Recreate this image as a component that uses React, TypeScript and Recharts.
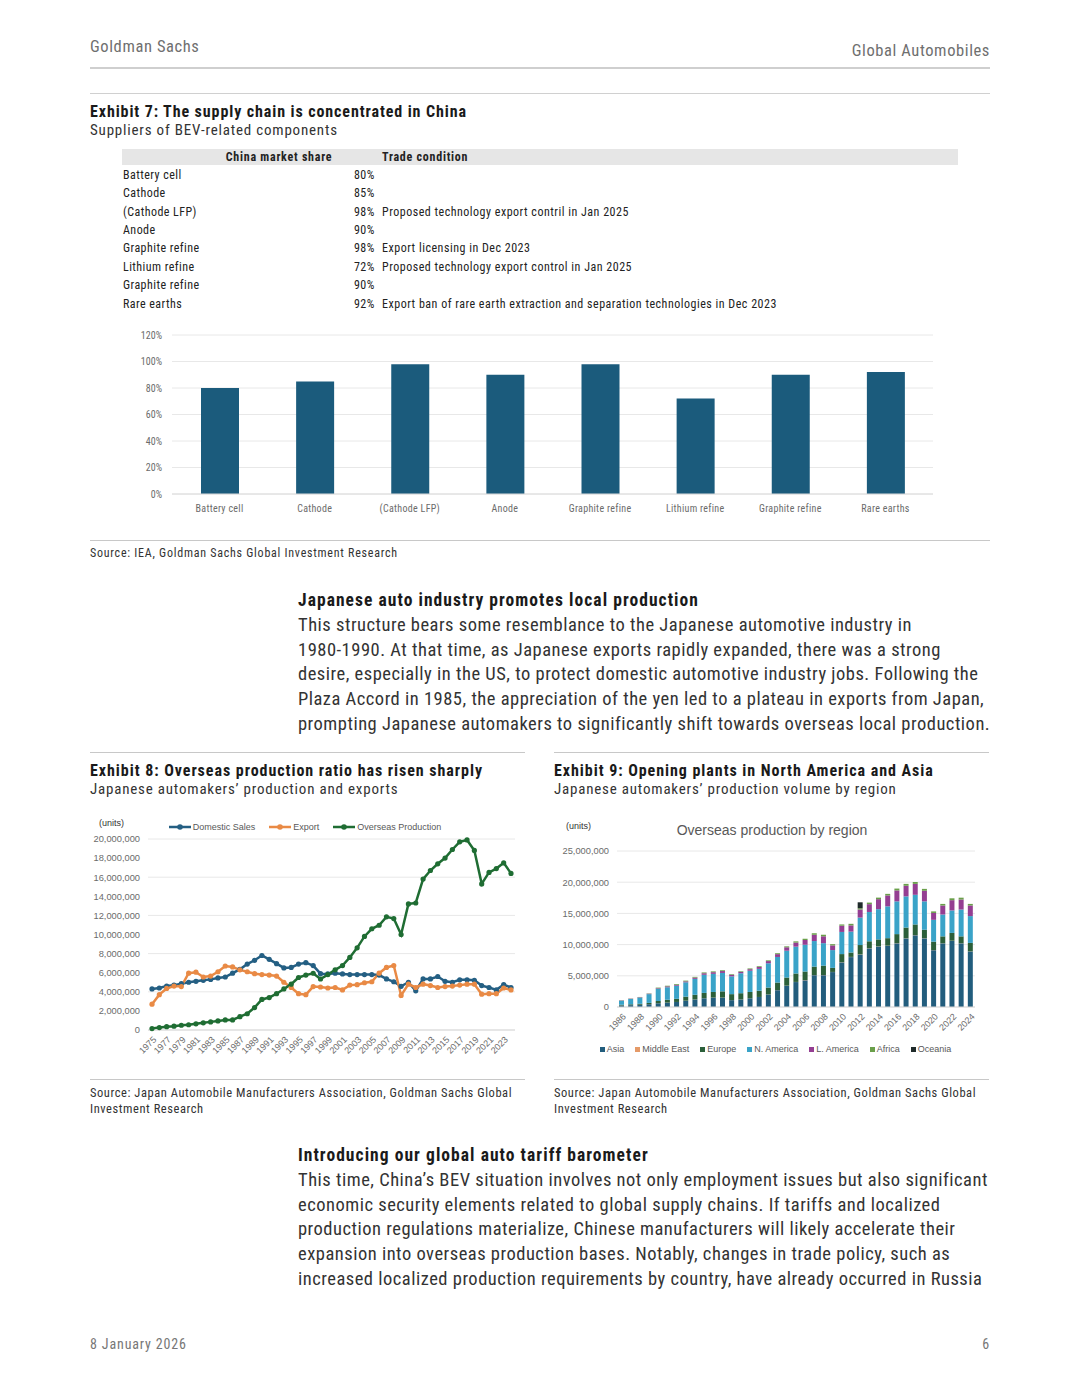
import React from "react";
import {
  Bar,
  BarChart,
  CartesianGrid,
  Legend,
  Line,
  LineChart,
  XAxis,
  YAxis,
} from "recharts";

// ---- Exhibit 7 data ----
const COMPONENTS = [
  "Battery cell",
  "Cathode",
  "(Cathode LFP)",
  "Anode",
  "Graphite refine",
  "Lithium refine",
  "Graphite refine",
  "Rare earths",
];
const CHINA_SHARE = [80, 85, 98, 90, 98, 72, 90, 92];
const TRADE_CONDITION = [
  "",
  "",
  "Proposed technology export contril in Jan 2025",
  "",
  "Export licensing in Dec 2023",
  "Proposed technology export control in Jan 2025",
  "",
  "Export ban of rare earth extraction and separation technologies in Dec 2023",
];
const SHARE_TICKS = [0, 20, 40, 60, 80, 100, 120];

// ---- Exhibit 8 data (millions of units) ----
const YEARS_8 = [
  "1975", "1976", "1977", "1978", "1979", "1980", "1981", "1982", "1983", "1984",
  "1985", "1986", "1987", "1988", "1989", "1990", "1991", "1992", "1993", "1994",
  "1995", "1996", "1997", "1998", "1999", "2000", "2001", "2002", "2003", "2004",
  "2005", "2006", "2007", "2008", "2009", "2010", "2011", "2012", "2013", "2014",
  "2015", "2016", "2017", "2018", "2019", "2020", "2021", "2022", "2023", "2024",
];
const DOMESTIC_SALES = [
  4.3, 4.4, 4.6, 4.7, 4.85, 5.0, 5.1, 5.2, 5.3, 5.45,
  5.55, 5.95, 6.35, 6.9, 7.3, 7.8, 7.4, 6.95, 6.5, 6.55,
  6.9, 7.05, 6.75, 5.9, 5.87, 5.95, 5.87, 5.8, 5.8, 5.8,
  5.8, 5.75, 5.35, 5.05, 4.57, 5.0, 4.1, 5.35, 5.35, 5.6,
  5.1, 5.0, 5.25, 5.25, 5.2, 4.65, 4.45, 4.2, 4.75, 4.45,
];
const EXPORT = [
  2.7, 3.7, 4.35, 4.6, 4.55, 5.95, 6.05, 5.55, 5.65, 6.1,
  6.7, 6.6, 6.3, 6.1, 5.9, 5.8, 5.75, 5.65, 5.0, 4.45,
  3.8, 3.7, 4.55, 4.5, 4.4, 4.45, 4.2, 4.7, 4.75, 4.95,
  5.05, 5.95, 6.55, 6.75, 3.62, 4.8, 4.45, 4.8, 4.65, 4.45,
  4.55, 4.6, 4.7, 4.8, 4.8, 3.75, 3.8, 3.8, 4.4, 4.2,
];
const OVERSEAS_PRODUCTION = [
  0.15, 0.25, 0.35, 0.4, 0.5, 0.55, 0.65, 0.75, 0.85, 0.95,
  1.05, 1.05, 1.4, 1.7, 2.35, 3.2, 3.4, 3.8, 4.3, 4.8,
  5.5, 5.75, 5.94, 5.34, 5.8, 6.3, 6.75, 7.6, 8.6, 9.8,
  10.6, 10.97, 11.85, 11.67, 10.0, 13.2, 13.3, 15.8, 16.7, 17.4,
  18.0, 18.9, 19.7, 19.9, 18.8, 15.3, 16.5, 16.9, 17.5, 16.4,
];
const UNIT_TICKS_8 = [0, 2, 4, 6, 8, 10, 12, 14, 16, 18, 20];

// ---- Exhibit 9 data (millions of units) ----
const YEARS_9 = [
  "1986", "1987", "1988", "1989", "1990", "1991", "1992", "1993", "1994", "1995",
  "1996", "1997", "1998", "1999", "2000", "2001", "2002", "2003", "2004", "2005",
  "2006", "2007", "2008", "2009", "2010", "2011", "2012", "2013", "2014", "2015",
  "2016", "2017", "2018", "2019", "2020", "2021", "2022", "2023", "2024",
];
const ASIA = [
  0.25, 0.3, 0.35, 0.45, 0.6, 0.7, 0.8, 1.0, 1.2, 1.4,
  1.5, 1.5, 1.1, 1.2, 1.4, 1.6, 2.0, 2.7, 3.4, 4.0,
  4.3, 5.1, 5.1, 5.6, 7.15, 8.0, 8.4, 9.4, 9.7, 9.8,
  10.2, 11.0, 11.5, 11.0, 9.1, 10.2, 10.6, 10.2, 8.9,
];
const MIDDLE_EAST = [
  0.01, 0.01, 0.01, 0.01, 0.01, 0.01, 0.01, 0.01, 0.01, 0.01,
  0.01, 0.01, 0.01, 0.01, 0.01, 0.01, 0.01, 0.02, 0.02, 0.02,
  0.02, 0.02, 0.03, 0.02, 0.03, 0.03, 0.03, 0.03, 0.03, 0.03,
  0.03, 0.03, 0.03, 0.03, 0.02, 0.02, 0.02, 0.02, 0.02,
];
const EUROPE = [
  0.1, 0.12, 0.15, 0.2, 0.35, 0.45, 0.5, 0.65, 0.75, 0.85,
  0.9, 1.0, 0.95, 1.0, 1.0, 1.0, 1.1, 1.2, 1.3, 1.35,
  1.35, 1.35, 1.5, 0.65, 1.3, 0.7, 1.5, 1.1, 1.1, 1.2,
  1.45, 1.7, 1.7, 1.35, 1.35, 1.1, 1.25, 1.1, 1.35,
];
const N_AMERICA = [
  0.65, 0.85, 1.0, 1.4, 1.95, 2.0, 2.1, 2.3, 2.55, 2.9,
  2.9, 2.95, 2.85, 3.2, 3.4, 3.5, 3.9, 4.1, 4.3, 4.3,
  4.3, 4.1, 3.6, 2.85, 3.55, 3.35, 4.4, 4.7, 4.85, 5.1,
  5.25, 5.0, 4.75, 4.55, 3.5, 3.5, 3.6, 4.3, 4.3,
];
const L_AMERICA = [
  0.05, 0.05, 0.06, 0.07, 0.1, 0.15, 0.15, 0.15, 0.2, 0.25,
  0.27, 0.3, 0.25, 0.22, 0.25, 0.3, 0.35, 0.45, 0.55, 0.65,
  0.75, 1.0, 1.1, 0.75, 1.0, 1.0, 1.3, 1.25, 1.6, 1.75,
  1.75, 1.7, 1.75, 1.7, 1.1, 1.45, 1.65, 1.6, 1.7,
];
const AFRICA = [
  0.03, 0.03, 0.04, 0.05, 0.1, 0.1, 0.12, 0.12, 0.12, 0.13,
  0.13, 0.13, 0.1, 0.1, 0.12, 0.12, 0.12, 0.15, 0.15, 0.2,
  0.2, 0.25, 0.25, 0.2, 0.2, 0.25, 0.2, 0.25, 0.25, 0.25,
  0.3, 0.3, 0.3, 0.3, 0.25, 0.25, 0.3, 0.3, 0.25,
];
const OCEANIA = [
  0, 0, 0, 0, 0, 0, 0, 0, 0, 0,
  0, 0, 0, 0, 0, 0, 0, 0, 0, 0,
  0, 0, 0, 0, 0, 0, 0.95, 0, 0, 0,
  0, 0, 0, 0, 0, 0, 0, 0, 0,
];
const UNIT_TICKS_9 = [0, 5, 10, 15, 20, 25];

const REGIONS = [
  { key: "asia", name: "Asia", color: "#225d7d", values: ASIA },
  { key: "me", name: "Middle East", color: "#e59a68", values: MIDDLE_EAST },
  { key: "europe", name: "Europe", color: "#2b5f3a", values: EUROPE },
  { key: "na", name: "N. America", color: "#3aa3c8", values: N_AMERICA },
  { key: "la", name: "L. America", color: "#943e92", values: L_AMERICA },
  { key: "africa", name: "Africa", color: "#6a9f4a", values: AFRICA },
  { key: "oceania", name: "Oceania", color: "#1f2a2a", values: OCEANIA },
];
const LINE_SERIES = [
  { key: "domestic", name: "Domestic Sales", color: "#245f83" },
  { key: "export", name: "Export", color: "#e98a45" },
  { key: "overseas", name: "Overseas Production", color: "#1f6d33" },
];

const FONT_GS = "'Liberation Sans Narrow', 'Roboto Condensed', Roboto, sans-serif";
const FONT_XL = "'Liberation Sans', Arial, sans-serif";
const GRID = "#e8e8e8";
const AXIS_TEXT = "#6b6b6b";

const exhibit7Data = COMPONENTS.map((c, i) => ({ name: c, share: CHINA_SHARE[i], idx: i }));
const exhibit8Data = YEARS_8.map((y, i) => ({
  year: y,
  domestic: DOMESTIC_SALES[i],
  export: EXPORT[i],
  overseas: OVERSEAS_PRODUCTION[i],
}));
const exhibit9Data = YEARS_9.map((y, i) => {
  const row: Record<string, string | number> = { year: y };
  REGIONS.forEach((r) => (row[r.key] = r.values[i]));
  return row;
});

const units = (v: number) => (v * 1000000).toLocaleString("en-US");

function T({
  x,
  y,
  size = 12,
  weight = 400,
  color = "#222",
  anchor = "start",
  font = FONT_GS,
  ls = 0,
  children,
}: {
  x: number;
  y: number;
  size?: number;
  weight?: number;
  color?: string;
  anchor?: "start" | "end" | "middle";
  font?: string;
  ls?: number;
  children: React.ReactNode;
}) {
  const style: React.CSSProperties = {
    position: "absolute",
    top: y - size * 0.6,
    fontSize: size,
    lineHeight: `${size * 1.2}px`,
    fontWeight: weight,
    color,
    fontFamily: font,
    letterSpacing: ls,
    whiteSpace: "nowrap",
  };
  if (anchor === "end") style.right = 1080 - x;
  else if (anchor === "middle") {
    style.left = x;
    style.transform = "translateX(-50%)";
  } else style.left = x;
  return <div style={style}>{children}</div>;
}

function Rule({ x, y, w, h = 1, color = "#c8c8c8" }: { x: number; y: number; w: number; h?: number; color?: string }) {
  return <div style={{ position: "absolute", left: x, top: y, width: w, height: h, background: color }} />;
}

function RotTick({ x, y, payload }: any) {
  return (
    <g transform={`translate(${x},${y})`}>
      <text x={2} y={5} transform="rotate(-45)" textAnchor="end" fontSize={9} fill={AXIS_TEXT} fontFamily={FONT_XL}>
        {payload.value}
      </text>
    </g>
  );
}

function LineLegend() {
  return (
    <div style={{ display: "flex", justifyContent: "center", gap: 14, fontSize: 9, color: "#595959", fontFamily: FONT_XL }}>
      {LINE_SERIES.map((e) => (
        <span key={e.key} style={{ display: "flex", alignItems: "center" }}>
          <svg width={22} height={8}>
            <line x1={0} y1={4} x2={22} y2={4} stroke={e.color} strokeWidth={2.5} />
            <circle cx={11} cy={4} r={2.8} fill={e.color} />
          </svg>
          <span style={{ marginLeft: 2 }}>{e.name}</span>
        </span>
      ))}
    </div>
  );
}

function BoxLegend() {
  return (
    <div style={{ display: "flex", justifyContent: "center", gap: 11, fontSize: 9, color: "#595959", fontFamily: FONT_XL, whiteSpace: "nowrap" }}>
      {REGIONS.map((e) => (
        <span key={e.key} style={{ display: "flex", alignItems: "center" }}>
          <span style={{ width: 5, height: 5, background: e.color, marginRight: 2, display: "inline-block" }} />
          {e.name}
        </span>
      ))}
    </div>
  );
}

const PARA_1 = [
  "This structure bears some resemblance to the Japanese automotive industry in",
  "1980-1990. At that time, as Japanese exports rapidly expanded, there was a strong",
  "desire, especially in the US, to protect domestic automotive industry jobs. Following the",
  "Plaza Accord in 1985, the appreciation of the yen led to a plateau in exports from Japan,",
  "prompting Japanese automakers to significantly shift towards overseas local production.",
];
const PARA_2 = [
  "This time, China\u2019s BEV situation involves not only employment issues but also significant",
  "economic security elements related to global supply chains. If tariffs and localized",
  "production regulations materialize, Chinese manufacturers will likely accelerate their",
  "expansion into overseas production bases. Notably, changes in trade policy, such as",
  "increased localized production requirements by country, have already occurred in Russia",
];

export default function App() {
  return (
    <div style={{ position: "absolute", left: 0, top: 0, width: 1080, height: 1397, background: "#fff", overflow: "hidden" }}>
      {/* page header */}
      <T x={90} y={47} size={16.5} color="#6f6f6f" ls={0.6}>Goldman Sachs</T>
      <T x={990} y={51} size={16.5} color="#6f6f6f" anchor="end" ls={0.6}>Global Automobiles</T>
      <Rule x={90} y={67} w={900} h={2} color="#cfcfcf" />
      <Rule x={90} y={93} w={900} h={1} color="#d0d0d0" />

      {/* Exhibit 7 */}
      <T x={90} y={112} size={16} weight={700} color="#1a1a1a" ls={0.9}>Exhibit 7: The supply chain is concentrated in China</T>
      <T x={90} y={130} size={15} color="#333" ls={0.8}>Suppliers of BEV-related components</T>
      <div style={{ position: "absolute", left: 122, top: 149, width: 836, height: 16, background: "#e6e6e6" }} />
      <T x={279} y={157} size={12} weight={700} anchor="middle" ls={0.75}>China market share</T>
      <T x={382} y={157} size={12} weight={700} ls={0.75}>Trade condition</T>
      {COMPONENTS.map((c, i) => (
        <React.Fragment key={i}>
          <T x={123} y={175 + i * 18.4} size={12} ls={0.45}>{c}</T>
          <T x={354} y={175 + i * 18.4} size={12} ls={0.45}>{CHINA_SHARE[i]}%</T>
          <T x={382} y={175 + i * 18.4} size={12} ls={0.5}>{TRADE_CONDITION[i]}</T>
        </React.Fragment>
      ))}
      <div style={{ position: "absolute", left: 112, top: 325 }}>
        <BarChart width={830} height={204} data={exhibit7Data} margin={{ top: 10, right: 9, bottom: 5, left: 0 }}>
          <CartesianGrid vertical={false} stroke={GRID} />
          <XAxis
            dataKey="idx"
            tickFormatter={(i: number) => COMPONENTS[i]}
            tickLine={false}
            axisLine={{ stroke: "#dcdcdc" }}
            tick={{ fontSize: 10, fill: AXIS_TEXT, fontFamily: FONT_GS, letterSpacing: 0.3 }}
            tickMargin={5}
            height={30}
            interval={0}
          />
          <YAxis
            domain={[0, 120]}
            ticks={SHARE_TICKS}
            tickFormatter={(v: number) => `${v}%`}
            tickLine={false}
            axisLine={false}
            tick={{ fontSize: 10, fill: AXIS_TEXT, fontFamily: FONT_GS }}
            tickMargin={4}
            width={60}
          />
          <Bar dataKey="share" fill="#1b5b7c" barSize={38} isAnimationActive={false} />
        </BarChart>
      </div>
      <Rule x={90} y={540} w={900} h={1} color="#c8c8c8" />
      <T x={90} y={553} size={12} color="#333" ls={0.75}>Source: IEA, Goldman Sachs Global Investment Research</T>

      {/* text section 1 */}
      <T x={298} y={600} size={17.5} weight={700} color="#1a1a1a" ls={1.05}>Japanese auto industry promotes local production</T>
      {PARA_1.map((l, i) => (
        <T key={i} x={298} y={625 + i * 24.75} size={18.5} color="#333" ls={0.5}>{l}</T>
      ))}

      {/* Exhibit 8 */}
      <Rule x={90} y={752} w={435} h={1} color="#c8c8c8" />
      <T x={90} y={771} size={16} weight={700} color="#1a1a1a" ls={0.95}>Exhibit 8: Overseas production ratio has risen sharply</T>
      <T x={90} y={789} size={15} color="#333" ls={0.8}>Japanese automakers&rsquo; production and exports</T>
      <T x={99} y={823} size={9} color="#333" font={FONT_XL}>(units)</T>
      <div style={{ position: "absolute", left: 85, top: 815 }}>
        <LineChart width={440} height={250} data={exhibit8Data} margin={{ top: 24, right: 10, bottom: 0, left: 0 }}>
          <CartesianGrid vertical={false} stroke={GRID} />
          <XAxis
            dataKey="year"
            interval={1}
            tickLine={false}
            axisLine={{ stroke: "#d9d9d9" }}
            tick={<RotTick />}
            height={35}
            padding={{ left: 4, right: 4 }}
          />
          <YAxis
            domain={[0, 20]}
            ticks={UNIT_TICKS_8}
            tickFormatter={units}
            tickLine={false}
            axisLine={false}
            tick={{ fontSize: 9.3, fill: AXIS_TEXT, fontFamily: FONT_XL }}
            width={63}
          />
          <Legend verticalAlign="middle" align="center" content={<LineLegend />} wrapperStyle={{ top: 7, left: 0, width: 440 }} />
          {LINE_SERIES.map((s) => (
            <Line key={s.key} dataKey={s.key} name={s.name} stroke={s.color} strokeWidth={2.5}
              dot={{ r: 2.6, fill: s.color, strokeWidth: 0 }} isAnimationActive={false} />
          ))}
        </LineChart>
      </div>
      <Rule x={90} y={1079} w={435} h={1} color="#c8c8c8" />
      <T x={90} y={1092} size={12.5} color="#333" ls={0.55}>Source: Japan Automobile Manufacturers Association, Goldman Sachs Global</T>
      <T x={90} y={1108} size={12.5} color="#333" ls={0.55}>Investment Research</T>

      {/* Exhibit 9 */}
      <Rule x={554} y={752} w={435} h={1} color="#c8c8c8" />
      <T x={554} y={771} size={16} weight={700} color="#1a1a1a" ls={0.95}>Exhibit 9: Opening plants in North America and Asia</T>
      <T x={554} y={789} size={15} color="#333" ls={0.8}>Japanese automakers&rsquo; production volume by region</T>
      <T x={566} y={826} size={9} color="#333" font={FONT_XL}>(units)</T>
      <T x={772} y={830} size={14} color="#595959" font={FONT_XL} anchor="middle">Overseas production by region</T>
      <div style={{ position: "absolute", left: 550, top: 815 }}>
        <BarChart width={435} height={250} data={exhibit9Data} margin={{ top: 36, right: 10, bottom: 23, left: 0 }}>
          <CartesianGrid vertical={false} stroke={GRID} />
          <XAxis
            dataKey="year"
            interval={1}
            tickLine={false}
            axisLine={{ stroke: "#d9d9d9" }}
            tick={<RotTick />}
            height={35}
          />
          <YAxis
            domain={[0, 25]}
            ticks={UNIT_TICKS_9}
            tickFormatter={units}
            tickLine={false}
            axisLine={false}
            tick={{ fontSize: 9.3, fill: AXIS_TEXT, fontFamily: FONT_XL }}
            width={67}
          />
          <Legend verticalAlign="middle" align="center" content={<BoxLegend />} wrapperStyle={{ top: 229, left: 8, width: 435 }} />
          {REGIONS.map((r) => (
            <Bar key={r.key} dataKey={r.key} name={r.name} stackId="a" fill={r.color} barSize={5} isAnimationActive={false} />
          ))}
        </BarChart>
      </div>
      <Rule x={554} y={1079} w={435} h={1} color="#c8c8c8" />
      <T x={554} y={1092} size={12.5} color="#333" ls={0.55}>Source: Japan Automobile Manufacturers Association, Goldman Sachs Global</T>
      <T x={554} y={1108} size={12.5} color="#333" ls={0.55}>Investment Research</T>

      {/* text section 2 */}
      <T x={298} y={1155} size={17.5} weight={700} color="#1a1a1a" ls={1.05}>Introducing our global auto tariff barometer</T>
      {PARA_2.map((l, i) => (
        <T key={i} x={298} y={1180 + i * 24.75} size={18.5} color="#333" ls={0.5}>{l}</T>
      ))}

      {/* footer */}
      <T x={90} y={1344} size={14} color="#777" ls={0.85}>8 January 2026</T>
      <T x={990} y={1344} size={14} color="#777" anchor="end" ls={0.85}>6</T>
    </div>
  );
}
